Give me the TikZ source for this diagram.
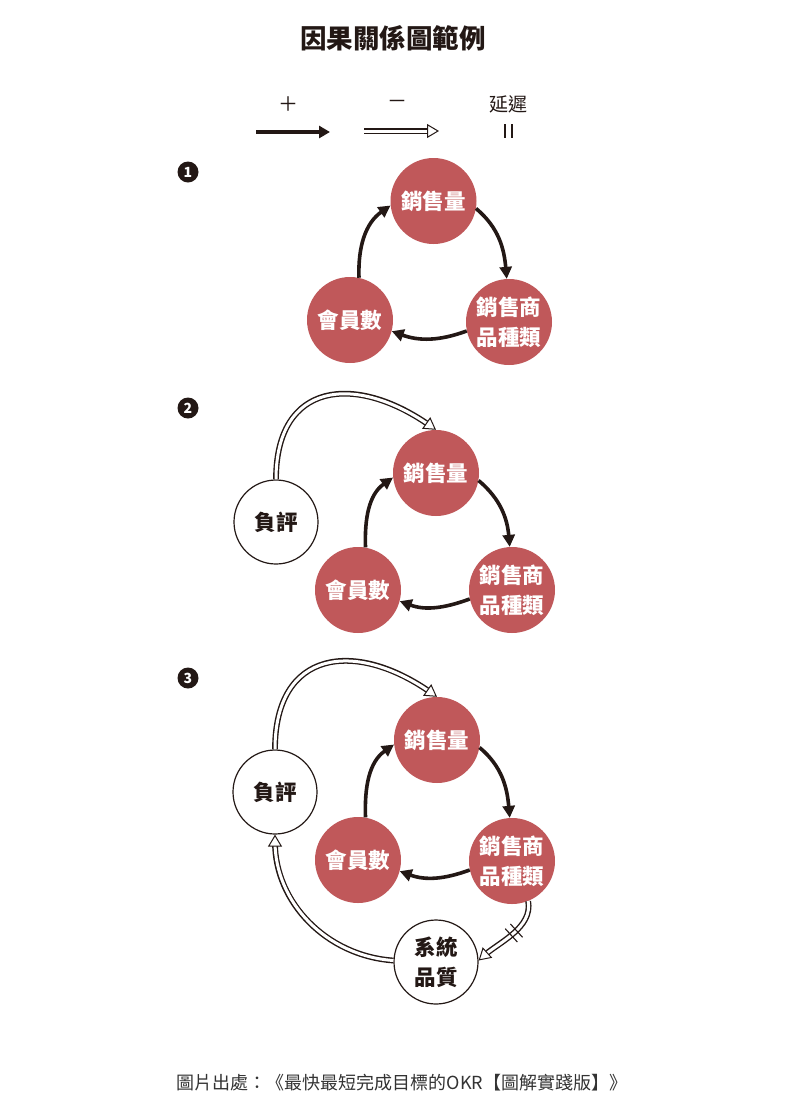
\documentclass[tikz,border=0pt]{standalone}
\usepackage{fontspec}
\setmainfont{Noto Sans CJK TC}
\usetikzlibrary{arrows.meta,decorations.markings}
\definecolor{ink}{RGB}{35,24,21}
\definecolor{rose}{RGB}{192,88,90}
\definecolor{graytxt}{RGB}{51,51,51}
\begin{document}
\begin{tikzpicture}[x=1pt,y=1pt,
  lab/.style={font=\fontsize{21.5}{30}\selectfont\bfseries, align=center},
  redc/.style={lab, circle, fill=rose, minimum size=86pt, inner sep=0pt, text=white},
  whtc/.style={lab, circle, draw=ink, line width=1.2pt, fill=white, minimum size=84pt, inner sep=0pt, text=ink},
  numc/.style={circle, fill=ink, minimum size=21pt, inner sep=0pt, text=white, font=\fontsize{14}{14}\selectfont\bfseries},
  posarr/.style={draw=ink, line width=3.6pt, -{Triangle[length=12pt,width=12pt]}},
  negarr/.style={
     postaction={draw=ink, line width=5.8pt, shorten >=8pt},
     postaction={draw=white, line width=3pt, shorten >=7pt},
     postaction={draw=white, line width=0.3pt, -{Triangle[open, color=ink, fill=white, length=12pt, width=14pt, line width=1pt]}}},
  delay/.style={postaction={decorate, decoration={markings, mark=at position 0.45 with {\draw[ink, line width=1.1pt] (-3.5pt,-9pt)--(-3.5pt,9pt) (3.5pt,-9pt)--(3.5pt,9pt);}}}},
]
\fill[white] (0,0) rectangle (810,-1104);
\useasboundingbox (0,0) rectangle (810,-1104);

% title
\node[font=\fontsize{26.5}{26.5}\selectfont\bfseries, text=ink] (title) at (393,-38) {因果關係圖範例};

% legend
\node[font=\fontsize{20}{20}\selectfont, text=ink] (lplus) at (288,-104) {＋};
\node[font=\fontsize{20}{20}\selectfont, text=ink] (lminus) at (397,-104) {－};
\node[font=\fontsize{19}{19}\selectfont, text=ink] (ldelay) at (508,-104) {延遲};
\coordinate (lp1) at (256,-132);
\coordinate (lp2) at (330,-132);
\draw[posarr, line width=4pt, -{Triangle[length=11pt,width=12pt]}] (lp1) -- (lp2);
\coordinate (ln1) at (364,-131);
\coordinate (ln2) at (439,-131);
\path[negarr] (ln1) -- (ln2);
\draw[ink, line width=1.2pt] (505,-124) -- (505,-138) (512,-124) -- (512,-138);

% numbers
\node[numc] (k1) at (188,-172) {1};
\node[numc] (k2) at (188,-408) {2};
\node[numc] (k3) at (188,-678) {3};

% section 1
\node[redc] (s1) at (433.5,-201) {銷售量};
\node[redc] (m1) at (350,-320) {會員數};
\node[redc] (p1) at (509,-322) {銷售商\\品種類};
\draw[posarr] (m1.78) to[out=92,in=215] (s1.186);
\draw[posarr] (s1.-10) to[out=-40,in=95] (p1.93);
\draw[posarr] (p1.192) to[out=200,in=-20] (m1.-15);

% section 2
\node[redc] (s2) at (436,-473) {銷售量};
\node[redc] (m2) at (358,-590) {會員數};
\node[redc] (p2) at (512,-590) {銷售商\\品種類};
\node[whtc] (n2) at (276,-522) {負評};
\draw[posarr] (m2.80) to[out=92,in=215] (s2.186);
\draw[posarr] (s2.-10) to[out=-40,in=95] (p2.93);
\draw[posarr] (p2.192) to[out=200,in=-20] (m2.-15);
\path[negarr] (n2.north) to[out=90,in=145,looseness=1.5] (s2.north);

% section 3
\node[redc] (s3) at (437,-740) {銷售量};
\node[redc] (m3) at (358,-860) {會員數};
\node[redc] (p3) at (512,-861) {銷售商\\品種類};
\node[whtc] (n3) at (275,-792) {負評};
\node[whtc] (q3) at (436,-962) {系統\\品質};
\draw[posarr] (m3.80) to[out=92,in=215] (s3.186);
\draw[posarr] (s3.-10) to[out=-40,in=95] (p3.93);
\draw[posarr] (p3.192) to[out=200,in=-20] (m3.-15);
\path[negarr] (n3.north) to[out=90,in=145,looseness=1.5] (s3.north);
\path[negarr, delay] (p3.-68) to[out=-80,in=42,looseness=0.9] (q3.2);
\path[negarr] (q3.178) to[out=176,in=-90] (n3.south);

% source
\node[font=\fontsize{18}{18}\selectfont, text=graytxt] (src) at (402,-1083) {圖片出處：《最快最短完成目標的OKR【圖解實踐版】》};
\end{tikzpicture}
\end{document}
